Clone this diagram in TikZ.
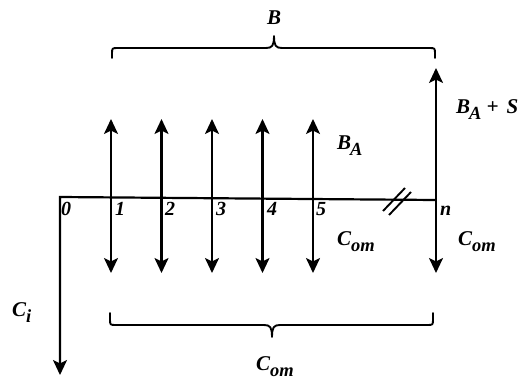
\documentclass[tikz,border=0pt]{standalone}
\usepackage{fontspec}
\setmainfont{Liberation Serif}
\usetikzlibrary{arrows.meta}
\newcommand\lo[1]{\raisebox{-0.3em}{\fontsize{18.5}{18.5}\selectfont #1}}
\tikzset{
  lab/.style={inner sep=0pt, anchor=base west, font=\fontsize{21}{22}\selectfont\bfseries\itshape},
  num/.style={inner sep=0pt, anchor=base west, font=\fontsize{20}{22}\selectfont\bfseries\itshape},
  ln/.style={line width=2.2pt},
  arr/.style={ln, -{Stealth[length=15pt,width=14pt,inset=3.5pt]}},
  br/.style={line width=1.9pt, line join=round, line cap=round}
}
\begin{document}
\begin{tikzpicture}[x=1pt,y=-1pt]
\useasboundingbox (0,0) rectangle (529,383);
% baseline points
\coordinate (t0) at (60,197);
\coordinate (t1) at (111,197.4);
\coordinate (t2) at (161.5,197.8);
\coordinate (t3) at (212,198.2);
\coordinate (t4) at (262.5,198.6);
\coordinate (t5) at (313,199);
\coordinate (tn) at (436,200);
% arrow ends
\coordinate (u1) at (111,119); \coordinate (d1) at (111,273);
\coordinate (u2) at (161.5,119); \coordinate (d2) at (161.5,273);
\coordinate (u3) at (212,119); \coordinate (d3) at (212,273);
\coordinate (u4) at (262.5,119); \coordinate (d4) at (262.5,273);
\coordinate (u5) at (313,119); \coordinate (d5) at (313,273);
\coordinate (un) at (436,68); \coordinate (dn) at (436,273);
\coordinate (ci) at (60,375);
% timeline
\draw[ln, line join=miter] (ci) ++(0,-10) -- (t0) -- (tn);
\draw[arr] (t0) -- (ci);
\foreach \i in {1,...,5}{
  \draw[arr] (t\i) -- (u\i);
  \draw[arr] (t\i) -- (d\i);
}
\draw[arr] (tn) -- (un);
\draw[arr] (tn) -- (dn);
% break mark
\coordinate (s1a) at (383,211); \coordinate (s1b) at (405,188);
\coordinate (s2a) at (389,215); \coordinate (s2b) at (411,192);
\draw[line width=1.9pt] (s1a) -- (s1b);
\draw[line width=1.9pt] (s2a) -- (s2b);
% braces
\draw[br] (112,58) -- (112,54) .. controls (112,48) .. (118,48) -- (266,48)
  .. controls (272,48) and (274,46) .. (274,36)
  .. controls (274,46) and (276,48) .. (282,48) -- (429,48)
  .. controls (435,48) .. (435,54) -- (435,58);
\draw[br] (110,313) -- (110,319) .. controls (110,325) .. (116,325) -- (264,325)
  .. controls (270,325) and (272,327) .. (272,337)
  .. controls (272,327) and (274,325) .. (280,325) -- (427,325)
  .. controls (433,325) .. (433,319) -- (433,313);
% numbers
\node[num] (n0) at (61,215) {0};
\node[num] (n1) at (115,215) {1};
\node[num] (n2) at (165,215) {2};
\node[num] (n3) at (216,215) {3};
\node[num] (n4) at (267,215) {4};
\node[num] (n5) at (316,215) {5};
\node[num] (nn) at (440,215) {n};
% labels
\node[lab, anchor=base] (lB) at (274,24) {B};
\node[lab] (lBA) at (337,149) {B\kern-1pt\lo{A}};
\node[lab] (lBAS) at (456,113) {B\kern-1pt\lo{A}\hspace{5pt}+\hspace{8pt}S};
\node[lab] (lC1) at (337,245) {C\lo{om}};
\node[lab] (lC2) at (458,245) {C\lo{om}};
\node[lab] (lCi) at (12,316) {C\lo{i}};
\node[lab] (lC3) at (256,370) {C\lo{om}};
\end{tikzpicture}
\end{document}
